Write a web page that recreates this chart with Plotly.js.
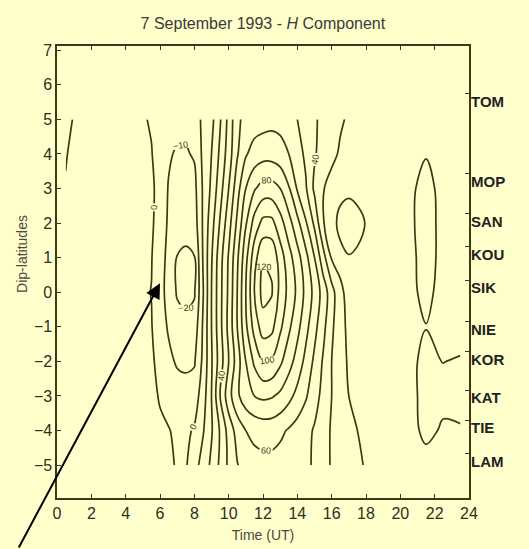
<!DOCTYPE html>
<html>
<head>
<meta charset="utf-8">
<script src="https://cdn.plot.ly/plotly-3.0.1.min.js"></script>
<style>html,body{margin:0;padding:0;background:#FFFFCC;}</style>
</head>
<body>
<div id="chart" style="width:529px;height:549px;"></div>
<script>
// Time (UT) of grid columns
const times = [0.5,1.5,2.5,3.5,4.5,5.5,6,6.5,7,7.5,8,8.5,9,9.5,10,10.5,11,11.5,12,12.5,13,13.5,14,14.5,15,15.5,16,16.5,17,17.5,18.5,19.5,20.5,21.5,22.5,23.5];
// Dip-latitudes of grid rows
const lats = [-5,-4,-3,-2,-1,0,1,2,3,4,5];
// H component (nT) per dip-latitude row
const latM5 = [5,5,5,5,5,5,4,2,-1,-1,6,14,22,32,42,49.5,54,56,57,57,56,55,53,51.5,49,44,39,35,32.5,31,28,26,25,23,25,26];
const latM4 = [4,4,4,4,4,4,2,0.5,-2,-2,1,9,19,31,44,54,60,63,64,64,62,59,56,53,49,44,39,35,32,30,27,25,23,18,21,20.5];
const latM3 = [4,4,4,4,4,3,-1,-4,-6,-6,-5,5,20,40,56,68,76,80,82,81,78,73,67,61,54,47,40,34,30,28,26,25,23,17,18,18];
const latM2 = [4,4,4,4,4,2,-4,-8,-11,-12,-11,2,19,35,50,65,80,92,100,99,92,84,76,67,58,49,40,33,29,27,26,25,23,17,20.2,19];
const latM1 = [4,4,4,4,3.5,0.5,-6,-11,-16,-17,-16,1,20,37,53,70,88,104,115,113,102,92,83,73,63,53,42,33,28,27,26,25,23,20.3,24,25];
const lat0  = [4,4,4,4,3,-0.2,-7,-13,-21,-23,-21,-1,20,37,52,70,90,110,124,121,107,97,88,77,67,56,44,32,27,27,26,25,23,17,24,25];
const latP1 = [4,4,4,4,3,0.5,-7,-12,-20.5,-22,-20.5,0.5,19,36,51,68,87,106,119,118,105,94,84,73,60,44,29,27,29.5,28.5,26,25,23,16,23,25];
const latP2 = [3,4,4,4,3.5,2,-6,-11,-15,-16,-15,1,16,31,46,62,79,94,103,103,94,84,73,61,48,30.5,26,33,35,33,26,24,22,16,23,25];
const latP3 = [0.5,4,4,4,3.5,2.5,-5,-10.5,-13,-14,-13,1,12,26,40,56,70,79,84,84,80,71,59,51,38,30.5,27,27,28,27,25,24,22,17,23,25];
const latP4 = [-0.5,4,4,4,3,0.5,-5,-9,-11,-11,-9,2,10,22,35,49,59,64,66,66,64,60,54,48,41,36,32,29,28,27,26,25,23,20.5,24,26];
const latP5 = [-2,3,4,4,3,-1,-4,-6,-7,-7,-5,2,7,19,33,48,53,55,56,57,56.5,54,50,45,41,38,34,31,29,28,27,26,25,23,25,26];
// Stations on the right axis
const stationNames = ['TOM','MOP','SAN','KOU','SIK','NIE','KOR','KAT','TIE','LAM'];
const stationLats  = [5.74,3.43,2.28,1.31,0.35,-0.85,-1.72,-2.83,-3.70,-4.66];
// Axis ticks
const timeTicks = [0,2,4,6,8,10,12,14,16,18,20,22,24];
const latTicks  = [-6,-5,-4,-3,-2,-1,0,1,2,3,4,5,6,7];
// Contour level groups: [start, end, step, labelled]
const levelsNegative = [-20, 0, 10, true];
const levelsLow      = [10, 30, 10, false];
const levelsEven     = [40, 120, 20, true];
const levelsOdd      = [50, 110, 20, false];
// Arrow pointing at the counter-electrojet feature
const arrowTip = {t: 6.0, lat: 0.26};
const arrowTail = {dx: -142, dy: 266};

const zGrid = [latM5, latM4, latM3, latM2, latM1, lat0, latP1, latP2, latP3, latP4, latP5];

const LINE = '#3b3a16';
const BG = '#FFFFCC';
const tickFont = {family: 'Liberation Sans, Arial, sans-serif', size: 16, color: '#2e2e1a'};

function contourTrace(lv) {
  return {
    type: 'contour', x: times, y: lats, z: zGrid,
    contours: {coloring: 'none', start: lv[0], end: lv[1], size: lv[2], showlabels: lv[3],
      labelfont: {family: 'Liberation Sans, Arial, sans-serif', size: 9, color: LINE}},
    line: {color: LINE, width: 1.7, smoothing: 1.0},
    showscale: false, hoverinfo: 'skip'
  };
}

const traces = [
  contourTrace(levelsLow),
  contourTrace(levelsOdd),
  contourTrace(levelsNegative),
  contourTrace(levelsEven),
  {type: 'scatter', x: [null], y: [null], yaxis: 'y2', showlegend: false, hoverinfo: 'skip'}
];

const layout = {
  width: 529, height: 549,
  paper_bgcolor: BG, plot_bgcolor: BG,
  margin: {l: 57, r: 60, t: 46, b: 51},
  showlegend: false,
  title: {text: '7 September 1993 - <i>H</i> Component', x: 0.497, xanchor: 'center', y: 0.958, yanchor: 'middle',
    font: {family: 'Liberation Sans, Arial, sans-serif', size: 16, color: '#3a3a3a'}},
  xaxis: {range: [0, 24], tickvals: timeTicks, ticks: 'inside', ticklen: 4, tickcolor: LINE,
    showline: true, linecolor: LINE, linewidth: 1.6, mirror: 'ticks', showgrid: false, zeroline: false,
    tickfont: tickFont,
    title: {text: 'Time (UT)', font: {family: 'Liberation Sans, Arial, sans-serif', size: 14, color: '#4a4a40'}, standoff: 9}},
  yaxis: {range: [-5.95, 7.12], tickvals: latTicks, ticks: 'inside', ticklen: 4, tickcolor: LINE,
    showline: true, linecolor: LINE, linewidth: 1.6, mirror: true, showgrid: false, zeroline: false,
    tickfont: tickFont},
  yaxis2: {overlaying: 'y', side: 'right', range: [-5.95, 7.12], tickvals: stationLats, ticktext: stationNames,
    ticks: 'inside', ticklen: 4, tickcolor: LINE, showgrid: false, zeroline: false, showline: false,
    ticklabelshift: 8, ticklabelstandoff: 1,
    tickfont: {family: 'Liberation Sans, Arial, sans-serif', size: 15, color: '#222', weight: 'bold'}},
  annotations: [
    {text: 'Dip-latitudes', xref: 'paper', yref: 'paper', x: -0.085, y: 0.54, xanchor: 'center', yanchor: 'middle',
     textangle: -90, showarrow: false, font: {family: 'Liberation Sans, Arial, sans-serif', size: 14, color: '#4a4a40'}},
    {x: arrowTip.t, y: arrowTip.lat, xref: 'x', yref: 'y', text: '', showarrow: true,
     ax: arrowTail.dx, ay: arrowTail.dy, axref: 'pixel', ayref: 'pixel',
     arrowhead: 2, arrowsize: 1.5, arrowwidth: 2, arrowcolor: '#000'}
  ]
};

Plotly.newPlot('chart', traces, layout, {displayModeBar: false, staticPlot: true});
</script>
</body>
</html>
